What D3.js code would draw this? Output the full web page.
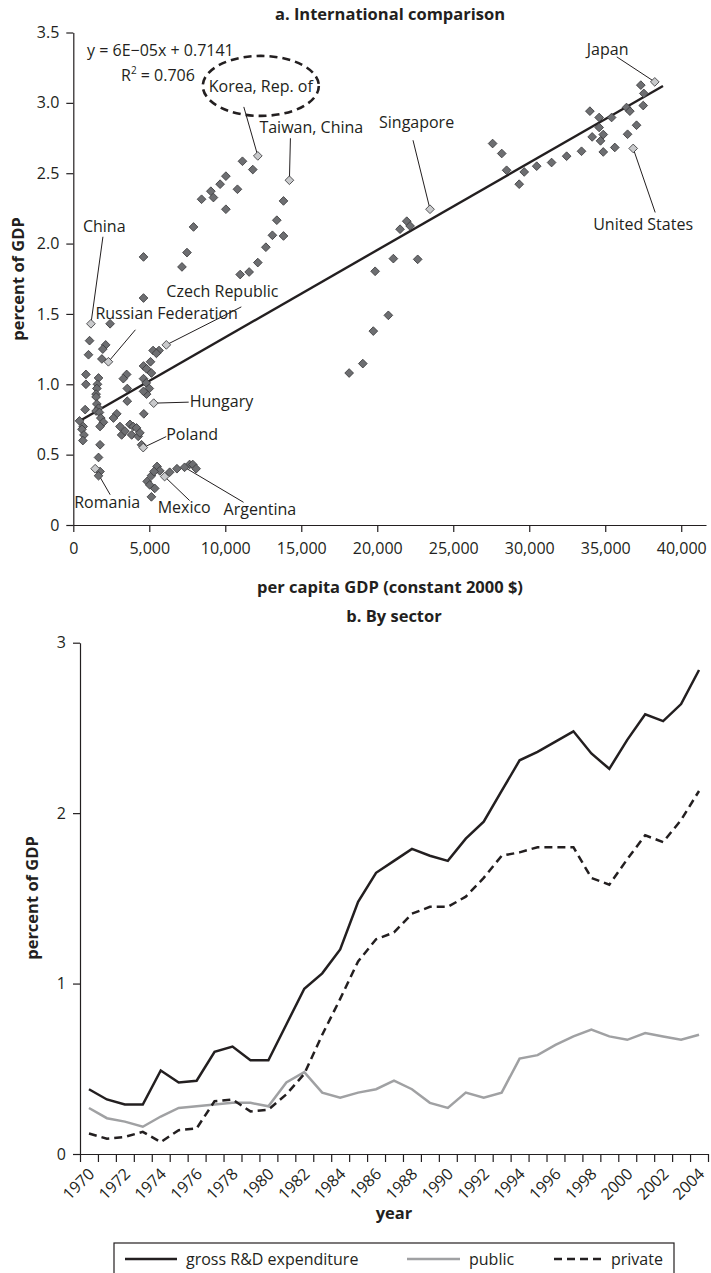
<!DOCTYPE html>
<html>
<head>
<meta charset="utf-8">
<script src="https://cdn.jsdelivr.net/npm/d3@7"></script>
<style>
  body { margin: 0; background: #fff; }
  svg { display: block; font-family: "Open Sans", sans-serif; }
  .axis path, .axis line { stroke: #231f20; stroke-width: 1.2; }
  .axis text { fill: #231f20; font-size: 16px; font-family: "Open Sans", sans-serif; }
</style>
</head>
<body>
<svg></svg>
<script>
// panel a: R&D (percent of GDP) against per capita GDP (constant 2000 $)
const scatterGdp = [
  11130, 11810, 10040, 9660, 9050, 8440, 9220, 10800, 10040, 7910, 7480, 7150, 4620, 4620,
  13830, 13390, 13100, 13830, 12670, 12140, 11570, 10980,
  21940, 21500, 22160, 21060, 22660, 19860, 20730, 19740, 19050, 18150,
  37340, 37540, 36400, 36620, 37500, 33990, 34600, 35420, 34600, 34870, 34140, 34690, 37060,
  36470, 35630, 34870, 33440, 32460, 31470, 30490, 29670, 29340, 28510, 28190, 27590,
  2420, 1070, 1000, 2130, 1940, 1880,
  5640, 5250, 5470, 5080, 4620, 4820, 5140, 4620, 4800, 5000, 4820, 4620, 4640,
  830, 830, 780, 410, 650, 570, 700, 630,
  1660, 1590, 1550, 1500, 1500, 1550, 1660, 1500, 1720, 1810, 1980, 1760, 1760, 1660, 1760, 1660,
  3510, 3290, 3550, 3550, 2860, 2640, 3070, 3180, 3400, 3730, 3940, 3840, 4160, 4270, 4380, 4490,
  4860, 5030, 5360, 5140, 5140, 5510, 5690, 5310, 6340, 6820, 7650, 7860, 8080
];
const scatterRd = [
  2.585, 2.526, 2.479, 2.422, 2.372, 2.315, 2.327, 2.386, 2.244, 2.118, 1.936, 1.834, 1.905, 1.613,
  2.303, 2.166, 2.059, 2.054, 1.974, 1.865, 1.798, 1.780,
  2.159, 2.102, 2.125, 1.893, 1.888, 1.803, 1.490, 1.378, 1.147, 1.080,
  3.126, 3.067, 2.967, 2.941, 2.981, 2.941, 2.896, 2.896, 2.825, 2.775, 2.758, 2.730, 2.841,
  2.777, 2.683, 2.651, 2.656, 2.621, 2.576, 2.550, 2.509, 2.422, 2.521, 2.640, 2.711,
  1.43, 1.31, 1.21, 1.28, 1.25, 1.18,
  1.24, 1.24, 1.22, 1.16, 1.13, 1.11, 1.08, 1.04, 1.01, 0.97, 0.93, 0.95, 0.79,
  1.07, 1.00, 0.82, 0.74, 0.70, 0.68, 0.64, 0.60,
  1.045, 1.00, 0.97, 0.93, 0.91, 0.86, 0.83, 0.81, 0.80, 0.76, 0.73, 0.70, 0.57, 0.48, 0.38, 0.35,
  1.07, 1.04, 0.97, 0.88, 0.79, 0.76, 0.70, 0.64, 0.667, 0.715, 0.70, 0.64, 0.69, 0.63, 0.655, 0.57,
  0.31, 0.285, 0.26, 0.20, 0.35, 0.416, 0.385, 0.38, 0.375, 0.40, 0.43, 0.43, 0.40
];

const labelNames = ["Korea, Rep. of", "Taiwan, China", "Singapore", "Japan", "United States", "China",
  "Russian Federation", "Czech Republic", "Hungary", "Poland", "Romania", "Mexico", "Argentina"];
const labelGdp = [12140, 14220, 23470, 38260, 36840, 1160, 2310, 6120, 5290, 4600, 1440, 6010, 7320];
const labelRd = [2.623, 2.45, 2.244, 3.149, 2.676, 1.43, 1.16, 1.28, 0.866, 0.55, 0.40, 0.344, 0.41];
const labelLight = [true, true, true, true, true, true, true, true, true, true, true, true, false];

const gdpTicks = [0, 5000, 10000, 15000, 20000, 25000, 30000, 35000, 40000];
const rdTicks = [0, 0.5, 1, 1.5, 2, 2.5, 3, 3.5];
const regSlope = 0.000062;
const regIntercept = 0.7141;
const regExtent = [440, 38800];

// panel b: by sector
const years = d3.range(1970, 2005);
const gross = [0.38, 0.32, 0.29, 0.29, 0.49, 0.42, 0.43, 0.60, 0.63, 0.55, 0.55, 0.76, 0.97, 1.06, 1.20,
  1.48, 1.65, 1.72, 1.79, 1.75, 1.72, 1.85, 1.95, 2.13, 2.31, 2.36, 2.42, 2.48, 2.35, 2.26, 2.43, 2.58,
  2.54, 2.64, 2.84];
const publicRd = [0.27, 0.21, 0.19, 0.16, 0.22, 0.27, 0.28, 0.29, 0.30, 0.30, 0.28, 0.42, 0.48, 0.36, 0.33,
  0.36, 0.38, 0.43, 0.38, 0.30, 0.27, 0.36, 0.33, 0.36, 0.56, 0.58, 0.64, 0.69, 0.73, 0.69, 0.67, 0.71,
  0.69, 0.67, 0.70];
const privateRd = [0.12, 0.09, 0.10, 0.13, 0.07, 0.14, 0.15, 0.31, 0.32, 0.25, 0.26, 0.35, 0.47, 0.70, 0.91,
  1.13, 1.26, 1.30, 1.41, 1.45, 1.45, 1.51, 1.62, 1.75, 1.77, 1.80, 1.80, 1.80, 1.62, 1.58, 1.73, 1.87,
  1.83, 1.96, 2.13];
const seriesNames = ["gross R&D expenditure", "public", "private"];
const sectorTicks = [0, 1, 2, 3];

const width = 711, height = 1273;
const ink = "#231f20";
const titleSize = 16.5;

const svg = d3.select("svg").attr("width", width).attr("height", height);
svg.append("rect").attr("width", width).attr("height", height).attr("fill", "#fff");

// ---------- panel a ----------
const x = d3.scaleLinear().domain([0, 41630]).range([73.3, 706]);
const y = d3.scaleLinear().domain([0, 3.5]).range([525, 32.5]);

svg.append("g").attr("class", "axis")
  .attr("transform", "translate(0,525)")
  .call(d3.axisBottom(x).tickValues(gdpTicks).tickFormat(d3.format(",")).tickSize(7).tickSizeOuter(0))
  .call(g => g.selectAll("text").attr("dy", "1.18em"));

svg.append("g").attr("class", "axis")
  .attr("transform", "translate(73.3,0)")
  .call(d3.axisLeft(y).tickValues(rdTicks).tickFormat(d => d === 0 ? "0" : d.toFixed(1)).tickSize(7).tickSizeOuter(0))
  .call(g => g.selectAll("text").attr("x", -14));

svg.append("text").attr("x", 390).attr("y", 20).attr("text-anchor", "middle")
  .attr("font-weight", "bold").attr("font-size", titleSize).attr("fill", ink)
  .text("a. International comparison");
svg.append("text").attr("x", 390).attr("y", 593).attr("text-anchor", "middle")
  .attr("font-weight", "bold").attr("font-size", titleSize).attr("fill", ink)
  .text("per capita GDP (constant 2000 $)");
svg.append("text").attr("transform", "translate(24,279) rotate(-90)").attr("text-anchor", "middle")
  .attr("font-weight", "bold").attr("font-size", titleSize).attr("fill", ink)
  .text("percent of GDP");

// regression line and equation
svg.append("line")
  .attr("x1", x(regExtent[0])).attr("y1", y(regIntercept + regSlope * regExtent[0]))
  .attr("x2", x(regExtent[1])).attr("y2", y(regIntercept + regSlope * regExtent[1]))
  .attr("stroke", ink).attr("stroke-width", 2.4);

svg.append("text").attr("x", 87).attr("y", 56).attr("font-size", 16).attr("fill", ink)
  .text("y = 6E\u221205x + 0.7141");
const r2 = svg.append("text").attr("x", 121).attr("y", 81).attr("font-size", 16).attr("fill", ink);
r2.append("tspan").text("R");
r2.append("tspan").attr("font-size", 10).attr("dy", -7).text("2");
r2.append("tspan").attr("dy", 7).text(" = 0.706");

// label layout: text offset and leader start offset (px) from the point
const labelLayout = [
  {tx: 3, ty: -64, anchor: "middle", lx: -14, ly: -49},
  {tx: -30, ty: -47, anchor: "start", lx: 1, ly: -42},
  {tx: -51, ty: -81, anchor: "start", lx: -17, ly: -69},
  {tx: -68, ty: -27, anchor: "start", lx: -38, ly: -25},
  {tx: -40, ty: 82, anchor: "start", lx: 22, ly: 64},
  {tx: -8, ty: -92, anchor: "start", lx: 12, ly: -87},
  {tx: -13, ty: -43, anchor: "start", lx: 27, ly: -32},
  {tx: 0, ty: -48, anchor: "start", lx: 75, ly: -38},
  {tx: 36, ty: 4, anchor: "start", lx: 35, ly: -1},
  {tx: 23, ty: -8, anchor: "start", lx: 23, ly: -11},
  {tx: -21, ty: 39, anchor: "start", lx: 15, ly: 26},
  {tx: -7, ty: 36, anchor: "start", lx: 25, ly: 24},
  {tx: 39, ty: 48, anchor: "start", lx: 59, ly: 35}
];

const labels = labelNames.map((name, i) => ({
  name, gdp: labelGdp[i], rd: labelRd[i], light: labelLight[i], ...labelLayout[i]
}));

const diamond = d3.symbol().type(d3.symbolSquare).size(38);

// leader lines
svg.append("g").selectAll("line").data(labels).enter().append("line")
  .attr("x1", d => x(d.gdp) + d.lx).attr("y1", d => y(d.rd) + d.ly)
  .attr("x2", d => x(d.gdp)).attr("y2", d => y(d.rd))
  .attr("stroke", ink).attr("stroke-width", 1);

// ellipse around Korea label
const korea = labels[0];
svg.append("ellipse")
  .attr("cx", x(korea.gdp) + 3).attr("cy", y(korea.rd) - 70)
  .attr("rx", 58).attr("ry", 30)
  .attr("fill", "none").attr("stroke", ink).attr("stroke-width", 2.6)
  .attr("stroke-dasharray", "8,5");

const dark = scatterGdp.map((g, i) => ({gdp: g, rd: scatterRd[i], light: false}));
const pts = dark.concat(labels);

svg.append("g").selectAll("path").data(pts).enter().append("path")
  .attr("d", diamond)
  .attr("transform", d => `translate(${x(d.gdp)},${y(d.rd)}) rotate(45)`)
  .attr("fill", d => d.light ? "#c9cacc" : "#6d6e71")
  .attr("stroke", "#3a3a3c").attr("stroke-width", 0.8);

svg.append("g").selectAll("text").data(labels).enter().append("text")
  .attr("x", d => x(d.gdp) + d.tx).attr("y", d => y(d.rd) + d.ty)
  .attr("text-anchor", d => d.anchor)
  .attr("font-size", 16).attr("fill", ink)
  .text(d => d.name);

// ---------- panel b ----------
const xb = d3.scaleLinear().domain([1969.5, 2004.5]).range([80, 708]);
const yb = d3.scaleLinear().domain([0, 3]).range([1154, 642.7]);

svg.append("g").attr("class", "axis")
  .attr("transform", "translate(0,1154)")
  .call(d3.axisBottom(xb).tickValues(d3.range(1969.5, 2005, 1)).tickFormat("").tickSize(8).tickSizeOuter(0));

svg.append("g").attr("class", "axis")
  .attr("transform", "translate(0,1154)")
  .call(d3.axisBottom(xb).tickValues(years.filter(v => v % 2 === 0)).tickFormat(d3.format("d")).tickSize(0))
  .call(g => g.select(".domain").remove())
  .call(g => g.selectAll("text")
    .attr("text-anchor", "end").attr("y", 0).attr("dy", "0.35em")
    .attr("transform", "translate(2,17) rotate(-45)"));

svg.append("g").attr("class", "axis")
  .attr("transform", "translate(80,0)")
  .call(d3.axisLeft(yb).tickValues(sectorTicks).tickFormat(d3.format("d")).tickSize(7).tickSizeOuter(0))
  .call(g => g.selectAll("text").attr("x", -14));

svg.append("text").attr("x", 394).attr("y", 622).attr("text-anchor", "middle")
  .attr("font-weight", "bold").attr("font-size", titleSize).attr("fill", ink)
  .text("b. By sector");
svg.append("text").attr("x", 394).attr("y", 1219).attr("text-anchor", "middle")
  .attr("font-weight", "bold").attr("font-size", titleSize).attr("fill", ink)
  .text("year");
svg.append("text").attr("transform", "translate(38,898) rotate(-90)").attr("text-anchor", "middle")
  .attr("font-weight", "bold").attr("font-size", titleSize).attr("fill", ink)
  .text("percent of GDP");

const series = [
  {name: seriesNames[0], values: gross, color: ink, dash: null},
  {name: seriesNames[1], values: publicRd, color: "#a0a1a3", dash: null},
  {name: seriesNames[2], values: privateRd, color: ink, dash: "8,5"}
];

const line = d3.line().x((d, i) => xb(years[i])).y(d => yb(d));

svg.append("g").selectAll("path").data(series).enter().append("path")
  .attr("d", d => line(d.values))
  .attr("fill", "none")
  .attr("stroke", d => d.color)
  .attr("stroke-width", 2.5)
  .attr("stroke-dasharray", d => d.dash);

// legend
const legend = svg.append("g");
legend.append("rect").attr("x", 114).attr("y", 1243).attr("width", 560).attr("height", 45)
  .attr("fill", "none").attr("stroke", ink).attr("stroke-width", 1.2);
const legendX = [125, 407, 554];
const legendW = [52, 53, 48];
series.forEach((s, i) => {
  legend.append("line")
    .attr("x1", legendX[i]).attr("x2", legendX[i] + legendW[i])
    .attr("y1", 1259).attr("y2", 1259)
    .attr("stroke", s.color).attr("stroke-width", 2.5)
    .attr("stroke-dasharray", s.dash);
  legend.append("text").attr("x", legendX[i] + legendW[i] + 9).attr("y", 1265)
    .attr("font-size", 16).attr("fill", ink).text(s.name);
});
</script>
</body>
</html>
